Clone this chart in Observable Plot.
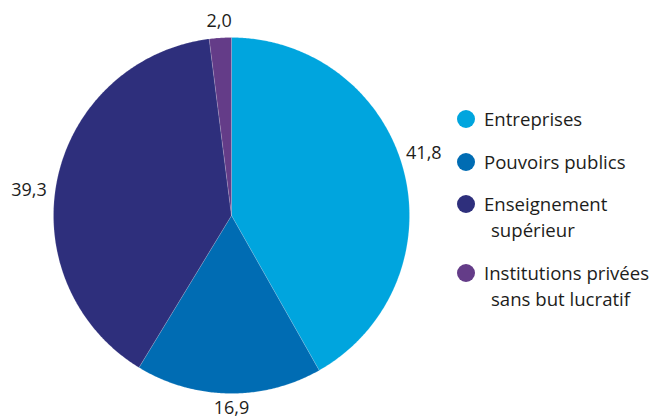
<!DOCTYPE html>
<html>
<head>
<meta charset="utf-8">
<script src="https://cdn.jsdelivr.net/npm/d3@7"></script>
<script src="https://cdn.jsdelivr.net/npm/@observablehq/plot@0.6"></script>
<style>
  body { margin: 0; background: #fff; font-family: "Open Sans", sans-serif; }
  #wrap { position: relative; width: 655px; height: 419px; }
  #legend { position: absolute; left: 457px; top: 106px; font-size: 18.6px; color: #1d1d1b; }
  .item { position: relative; padding-left: 27px; line-height: 26px; margin-bottom: 16.5px; }
  .item .sw { position: absolute; left: 0; top: 4px; width: 18px; height: 18px; border-radius: 50%; }
  .item .l2 { padding-left: 7px; }
</style>
</head>
<body>
<div id="wrap"><div id="chart"></div><div id="legend"></div></div>
<script>
const categories = ["Entreprises", "Pouvoirs publics", "Enseignement supérieur", "Institutions privées sans but lucratif"];
const legendLines = [["Entreprises"], ["Pouvoirs publics"], ["Enseignement", "supérieur"], ["Institutions privées", "sans but lucratif"]];
const values = [41.8, 16.9, 39.3, 2.0];
const valueLabels = ["41,8", "16,9", "39,3", "2,0"];
const colors = ["#00a5de", "#006cb3", "#2e2f7c", "#643c88"];

const cx = 231, cy = 215, R = 178;
const labelNudge = [[3, -12], [3, -3], [-11, 16], [0, 1]];

const arcs = d3.pie().sort(null).value(d => d)(values);
const polys = [];
arcs.forEach((a, i) => {
  const cat = categories[i];
  polys.push({cat, x: 0, y: 0});
  const n = Math.max(2, Math.ceil((a.endAngle - a.startAngle) / (Math.PI / 360)));
  for (let k = 0; k <= n; k++) {
    const t = a.startAngle + (a.endAngle - a.startAngle) * k / n;
    polys.push({cat, x: Math.sin(t), y: Math.cos(t)});
  }
  polys.push({cat, x: 0, y: 0});
});

const labelData = arcs.map((a, i) => {
  const m = (a.startAngle + a.endAngle) / 2;
  return {label: valueLabels[i], x: 1.1 * Math.sin(m), y: 1.1 * Math.cos(m), i};
});

const chart = Plot.plot({
  width: 655,
  height: 419,
  margin: 0,
  x: {domain: [-1, 1], range: [cx - R, cx + R], axis: null},
  y: {domain: [-1, 1], range: [cy + R, cy - R], axis: null},
  color: {domain: categories, range: colors},
  style: {fontFamily: "'Open Sans', sans-serif", background: "#fff"},
  marks: [
    Plot.line(polys, {x: "x", y: "y", z: "cat", fill: "cat", stroke: "#ffffff", strokeOpacity: 0.25, strokeWidth: 0.6, curve: "linear"}),
    ...labelData.map(d => Plot.text([d], {x: "x", y: "y", text: "label", fontSize: 18, fill: "#1d1d1b", dx: labelNudge[d.i][0], dy: labelNudge[d.i][1]}))
  ]
});
document.getElementById("chart").appendChild(chart);

const legend = document.getElementById("legend");
legendLines.forEach((lines, i) => {
  const it = document.createElement("div");
  it.className = "item";
  const sw = document.createElement("span");
  sw.className = "sw";
  sw.style.background = colors[i];
  it.appendChild(sw);
  lines.forEach((t, j) => {
    const d = document.createElement("div");
    d.textContent = t;
    if (j > 0) d.className = "l2";
    it.appendChild(d);
  });
  legend.appendChild(it);
});
</script>
</body>
</html>
